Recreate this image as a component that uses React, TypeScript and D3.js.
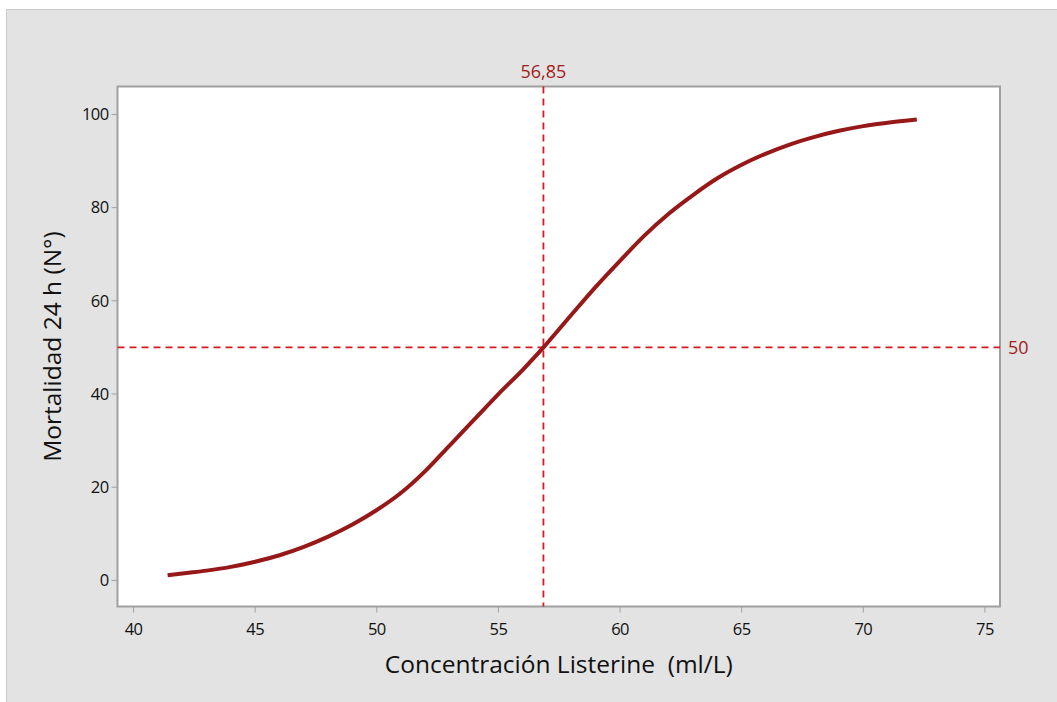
import React from "react";
import * as d3 from "d3";

const concentration = [41.4, 42, 43, 44, 45, 46, 47, 48, 49, 50, 51, 52, 53, 54, 55, 56, 56.85, 57, 58, 59, 60, 61, 62, 63, 64, 65, 66, 67, 68, 69, 70, 71, 72.2];
const mortality = [1.1, 1.5, 2.1, 2.9, 4.0, 5.4, 7.2, 9.4, 12.0, 15.1, 18.8, 23.5, 29.0, 34.5, 40.0, 45.2, 50, 50.9, 57.0, 63.0, 68.6, 74.0, 78.7, 82.7, 86.3, 89.2, 91.6, 93.6, 95.2, 96.5, 97.5, 98.2, 98.9];
const xTicks = [40, 45, 50, 55, 60, 65, 70, 75];
const yTicks = [0, 20, 40, 60, 80, 100];
const refX = 56.85;
const refY = 50;
const refXLabel = "56,85";
const refYLabel = "50";
const xTitle = "Concentración Listerine  (ml/L)";
const yTitle = "Mortalidad 24 h (N°)";

const W = 1057, H = 702;
const panel = { l: 117.5, t: 86.5, r: 1000, b: 606.5 };

export default function App() {
  const x = d3.scaleLinear().domain([39.34, 75.62]).range([panel.l, panel.r]);
  const y = d3.scaleLinear().domain([-5.6, 106.0]).range([panel.b, panel.t]);
  const pts = concentration.map((c, i) => [c, mortality[i]] as [number, number]);
  const line = d3.line<[number, number]>().x(d => x(d[0])).y(d => y(d[1])).curve(d3.curveMonotoneX);
  const font = "'Open Sans', 'Noto Sans', sans-serif";
  const red = "#d81b1f";
  return (
    <svg width={W} height={H} style={{ position: "absolute", left: 0, top: 0 }} fontFamily={font}>
      <rect x={0} y={0} width={W} height={H} fill="#ffffff" />
      <rect x={6.5} y={9.5} width={W} height={H - 8} fill="#e3e3e3" stroke="#c9c9c9" strokeWidth={1} />
      <rect x={panel.l} y={panel.t} width={panel.r - panel.l} height={panel.b - panel.t} fill="#ffffff" stroke="#a0a0a0" strokeWidth={2} />
      {yTicks.map(t => (
        <g key={"y" + t}>
          <line x1={panel.l - 6} x2={panel.l} y1={y(t)} y2={y(t)} stroke="#a0a0a0" strokeWidth={1} />
          <text x={panel.l - 9} y={y(t)} dy="0.35em" textAnchor="end" fontSize={16.5} fill="#111" letterSpacing={-0.6}>{t}</text>
        </g>
      ))}
      {xTicks.map(t => (
        <g key={"x" + t}>
          <line x1={x(t)} x2={x(t)} y1={panel.b} y2={panel.b + 6} stroke="#a0a0a0" strokeWidth={1} />
          <text x={x(t)} y={panel.b + 28} textAnchor="middle" fontSize={16.5} fill="#111" letterSpacing={-0.6}>{t}</text>
        </g>
      ))}
      <line x1={panel.l} x2={panel.r} y1={y(refY)} y2={y(refY)} stroke={red} strokeWidth={1.8} strokeDasharray="7,5" />
      <line x1={x(refX)} x2={x(refX)} y1={panel.t} y2={panel.b} stroke={red} strokeWidth={1.8} strokeDasharray="7,5" />
      <path d={line(pts) || ""} fill="none" stroke="#961818" strokeWidth={4} />
      <text x={x(refX)} y={panel.t - 9} textAnchor="middle" fontSize={18} fill="#a01c1c">{refXLabel}</text>
      <text x={panel.r + 8} y={y(refY)} dy="0.35em" textAnchor="start" fontSize={18} fill="#a01c1c">{refYLabel}</text>
      <text x={(panel.l + panel.r) / 2} y={673} textAnchor="middle" fontSize={24.5} fill="#111" style={{ whiteSpace: "pre" }}>{xTitle}</text>
      <text transform={`translate(61,${(panel.t + panel.b) / 2}) rotate(-90)`} textAnchor="middle" fontSize={24.5} fill="#111">{yTitle}</text>
    </svg>
  );
}
